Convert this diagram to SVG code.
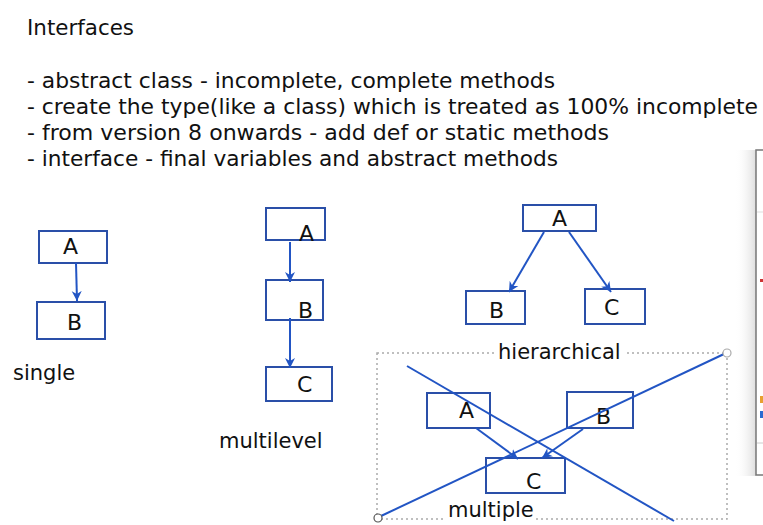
<svg xmlns="http://www.w3.org/2000/svg" width="763" height="525" viewBox="0 0 763 525">
<defs>
<style>
.t{font-family:"DejaVu Sans",Verdana,sans-serif;fill:#111}
.h{font-size:20.5px}
.lbl{font-size:21px}
.ch{font-size:22px}
.box{fill:none;stroke:#2a4fa8;stroke-width:2}
.ln{stroke:#2255c4;stroke-width:2;fill:none}
</style>
<marker id="ar" markerWidth="12" markerHeight="12" refX="10" refY="6" orient="auto" markerUnits="userSpaceOnUse">
<path d="M0,1 L10,6 L0,11 L3,6 Z" fill="#2255c4"/>
</marker>
<linearGradient id="sh" x1="0" x2="1" y1="0" y2="0">
<stop offset="0" stop-color="#fff" stop-opacity="0"/>
<stop offset="1" stop-color="#ddd"/>
</linearGradient>
</defs>
<rect width="763" height="525" fill="#fff"/>

<g id="notes">
<text class="t h" x="27" y="35" textLength="107" lengthAdjust="spacingAndGlyphs">Interfaces</text>
<text class="t h" x="27" y="88" textLength="528" lengthAdjust="spacingAndGlyphs">- abstract class - incomplete, complete methods</text>
<text class="t h" x="27" y="114" textLength="731" lengthAdjust="spacingAndGlyphs">- create the type(like a class) which is treated as 100% incomplete</text>
<text class="t h" x="27" y="140" textLength="582" lengthAdjust="spacingAndGlyphs">- from version 8 onwards - add def or static methods</text>
<text class="t h" x="27" y="166" textLength="531" lengthAdjust="spacingAndGlyphs">- interface - final variables and abstract methods</text>
</g>

<g id="panel">
<rect x="735" y="150" width="21" height="326" fill="url(#sh)"/>
<rect x="756" y="150" width="10" height="325" fill="#fff" stroke="#777" stroke-width="1.5"/>
<line x1="757" y1="212" x2="763" y2="212" stroke="#eee" stroke-width="2"/>
<line x1="757" y1="443" x2="763" y2="443" stroke="#ccc" stroke-width="1"/>
<rect x="760" y="279" width="3" height="3" fill="#c33"/>
<rect x="760" y="396" width="3" height="7" fill="#e8a030"/>
<rect x="760" y="411" width="3" height="7" fill="#2a6ad0"/>
</g>

<g id="single-A"><rect class="box" x="39" y="231" width="68" height="32"/><text class="t ch" x="63" y="254">A</text></g>
<g id="single-B"><rect class="box" x="37" y="302" width="68" height="37"/><text class="t ch" x="67" y="330">B</text></g>
<text class="t lbl" x="13" y="380">single</text>

<g id="multi-A"><rect class="box" x="266" y="208" width="59" height="32"/><text class="t ch" x="299" y="241">A</text></g>
<g id="multi-B"><rect class="box" x="266" y="280" width="57" height="40"/><text class="t ch" x="298" y="318">B</text></g>
<g id="multi-C"><rect class="box" x="266" y="367" width="66" height="34"/><text class="t ch" x="297" y="392">C</text></g>
<text class="t lbl" x="219" y="448">multilevel</text>

<g id="hier-A"><rect class="box" x="523" y="205" width="73" height="26"/><text class="t ch" x="552" y="226">A</text></g>
<g id="hier-B"><rect class="box" x="466" y="291" width="59" height="33"/><text class="t ch" x="489" y="318">B</text></g>
<g id="hier-C"><rect class="box" x="585" y="289" width="60" height="35"/><text class="t ch" x="604" y="315">C</text></g>

<g id="multiple-frame">
<rect x="377" y="353" width="350" height="166" fill="none" stroke="#aaa" stroke-width="1.5" stroke-dasharray="2 3"/>
<rect x="494" y="345" width="130" height="20" fill="#fff"/>
<rect x="444" y="500" width="92" height="24" fill="#fff"/>
<text class="t lbl" x="498" y="359">hierarchical</text>
</g>
<g id="mult-A"><rect class="box" x="427" y="393" width="63" height="35"/><text class="t ch" x="459" y="418">A</text></g>
<g id="mult-B"><rect class="box" x="567" y="392" width="66" height="36"/><text class="t ch" x="596" y="424">B</text></g>
<g id="mult-C"><rect class="box" x="486" y="458" width="79" height="35"/><text class="t ch" x="526" y="489">C</text></g>
<text class="t lbl" x="448" y="517">multiple</text>

<g id="connectors">
<line class="ln" x1="76" y1="263" x2="77" y2="301" marker-end="url(#ar)"/>
<line class="ln" x1="290" y1="242" x2="290" y2="282" marker-end="url(#ar)"/>
<line class="ln" x1="290" y1="318" x2="290" y2="368" marker-end="url(#ar)"/>
<line class="ln" x1="544" y1="232" x2="509" y2="292" marker-end="url(#ar)"/>
<line class="ln" x1="569" y1="232" x2="611" y2="292" marker-end="url(#ar)"/>
<line class="ln" x1="476" y1="428" x2="518" y2="459" marker-end="url(#ar)"/>
<line class="ln" x1="583" y1="429" x2="542" y2="458" marker-end="url(#ar)"/>
<line class="ln" x1="407" y1="366" x2="674" y2="521"/>
<line class="ln" x1="381" y1="516" x2="724" y2="354"/>
<circle cx="727" cy="353" r="4" fill="#fff" stroke="#aaa" stroke-width="1.2"/>
<circle cx="378" cy="518" r="4" fill="#fff" stroke="#555" stroke-width="1.2"/>
</g>
</svg>
